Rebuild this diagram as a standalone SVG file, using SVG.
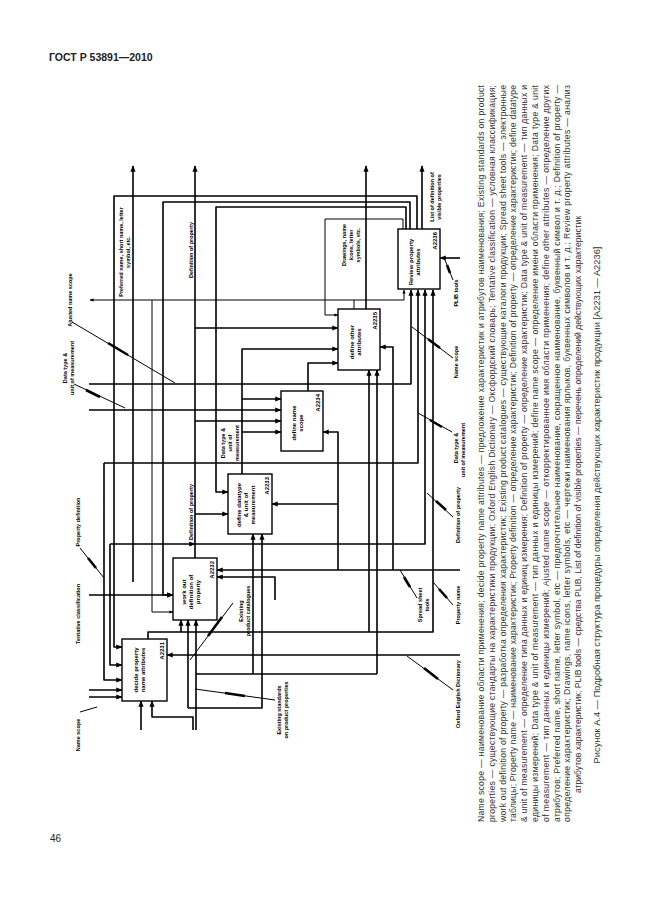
<svg xmlns="http://www.w3.org/2000/svg" width="646" height="913" viewBox="0 0 646 913">
<defs>
<marker id="ah" viewBox="0 0 10 10" refX="9" refY="5" markerWidth="4" markerHeight="4" orient="auto-start-reverse"><path d="M0,1 L10,5 L0,9 z" fill="#000"/></marker>
<style>
.t{font-family:"Liberation Sans",Arial,sans-serif;fill:#222}
.lbl{font-family:"Liberation Sans",Arial,sans-serif;font-weight:bold;font-size:5.5px;fill:#000}
.bx{font-family:"Liberation Sans",Arial,sans-serif;font-weight:bold;font-size:6px;fill:#000}
.box{fill:#fff;stroke:#000;stroke-width:1.4}
.w{fill:none;stroke:#000;stroke-width:1.6;stroke-linejoin:round}
.n{fill:none;stroke:#000;stroke-width:1;stroke-linejoin:round}
.h{fill:none;stroke:#000;stroke-width:2.6}
.a{marker-end:url(#ah)}
.cap{font-family:"Liberation Sans",Arial,sans-serif;font-size:8.6px;fill:#333}
</style>
</defs>
<rect width="646" height="913" fill="#fff"/>
<text x="49" y="61" class="t" font-weight="bold" font-size="10.5">ГОСТ Р 53891—2010</text>
<text x="50" y="842" class="t" font-size="10">46</text>

<g id="connectors">
<path class="w a" d="M133,582 V166"/>
<path class="w a" d="M195,558 V166"/>
<path class="w a" d="M366,309 V166"/>
<path class="w a" d="M422,229 V166"/>
<path class="w a" d="M417,229 V196 H114 V647 H122"/>
<path class="w a" d="M410,229 V202 H163 V595 H173"/>
<path class="w a" d="M406,229 V207 H216 V492 H228"/>
<path class="n a" d="M403,229 V219 H325 V315 H338"/>
<path class="n a" d="M354,309 V300 H404 V290"/>
<path class="n a" d="M354,300 H90"/>
<path class="n a" d="M152,300 V612 H173"/>
<path class="w a" d="M195,328 H338"/>
<path class="w a" d="M195,421 H281"/>
<path class="w a" d="M195,514 H228"/>
<path class="w a" d="M195,544 H425 V290"/>
<path class="w a" d="M110,544 H195"/>
<path class="w a" d="M110,544 V665 H122"/>
<path class="w a" d="M242,474 V349 H338"/>
<path class="w a" d="M242,432 H281"/>
<path class="w a" d="M104,463 H418 V290"/>
<path class="w a" d="M104,463 V680 H122"/>
<path class="w a" d="M308,391 V363 H338"/>
<path class="w a" d="M89,384 H411 V290"/>
<path class="w a" d="M89,410 H281"/>
<path class="w a" d="M242,399 H281"/>
<path class="w a" d="M148,639 V632 H433 V290"/>
<path class="w a" d="M181,632 V620"/>
<path class="w a" d="M369,632 V370"/>
<path class="w a" d="M89,690 H122"/>
<path class="w a" d="M89,697 H122"/>
<path class="w a" d="M89,595 H173"/>
<path class="w a" d="M141,730 V701"/>
<path class="w a" d="M193,730 V717 H152 V701"/>
<path class="w a" d="M196,730 V620"/>
<path class="w a" d="M188,708 V620"/>
<path class="w" d="M196,674 H377"/>
<path class="w a" d="M377,674 V370"/>
<path class="w a" d="M188,708 H262 V534"/>
<path class="w a" d="M253,674 V534"/>
<path class="w a" d="M460,258 H440"/>
<path class="w a" d="M393,570 V347 H380"/>
<path class="w a" d="M338,570 V432 H323"/>
<path class="w a" d="M338,504 H272"/>
<path class="w a" d="M460,570 H217"/>
<path class="w a" d="M275,600 V577 H217"/>
<path class="w a" d="M460,655 H167"/>
<!-- label squiggles with tunnel marks -->
<path class="n" d="M72,322 L175,383"/><path class="h" d="M108,343 L128,355"/>
<path class="n" d="M74,384 L125,408"/><path class="h" d="M86,390 L100,397"/>
<path class="n" d="M80,548 L104,578"/><path class="h" d="M88,558 L96,568"/>
<path class="n" d="M445,260 L453,280"/><path class="h" d="M447,265 L450,273"/>
<path class="n" d="M412,327 L453,358"/><path class="h" d="M428,339 L440,348"/>
<path class="n" d="M418,413 L452,432"/><path class="h" d="M430,420 L442,427"/>
<path class="n" d="M427,493 L453,517"/><path class="h" d="M436,501 L446,510"/>
<path class="n" d="M433,582 L453,605"/><path class="h" d="M439,589 L447,598"/>
<path class="n" d="M400,570 L417,598"/><path class="h" d="M404,577 L410,587"/>
<path class="n" d="M407,656 L453,690"/><path class="h" d="M424,668 L438,679"/>
<path class="n" d="M233,603 L190,660"/><path class="h" d="M222,617 L208,636"/>
<path class="n" d="M195,689 L275,700"/><path class="h" d="M225,693 L245,696"/>
<path class="n" d="M80,712 L97,707"/>
</g>

<g id="A2231"><rect class="box" x="122" y="639" width="45" height="62"/>
<text class="bx" transform="translate(138,670) rotate(-90)" text-anchor="middle">decide property</text>
<text class="bx" transform="translate(145,670) rotate(-90)" text-anchor="middle">name attributes</text>
<text class="bx" transform="translate(164,642) rotate(-90)" text-anchor="end">A2231</text></g>
<g id="A2232"><rect class="box" x="173" y="558" width="44" height="62"/>
<text class="bx" transform="translate(186,592) rotate(-90)" text-anchor="middle">work out</text>
<text class="bx" transform="translate(193,592) rotate(-90)" text-anchor="middle">definition of</text>
<text class="bx" transform="translate(200,592) rotate(-90)" text-anchor="middle">property</text>
<text class="bx" transform="translate(214,561) rotate(-90)" text-anchor="end">A2232</text></g>
<g id="A2233"><rect class="box" x="228" y="474" width="44" height="60"/>
<text class="bx" transform="translate(241,505) rotate(-90)" text-anchor="middle">define datatype</text>
<text class="bx" transform="translate(248,505) rotate(-90)" text-anchor="middle">&amp; unit of</text>
<text class="bx" transform="translate(255,505) rotate(-90)" text-anchor="middle">measurement</text>
<text class="bx" transform="translate(269,477) rotate(-90)" text-anchor="end">A2233</text></g>
<g id="A2234"><rect class="box" x="281" y="391" width="42" height="60"/>
<text class="bx" transform="translate(296,423) rotate(-90)" text-anchor="middle">define name</text>
<text class="bx" transform="translate(303,423) rotate(-90)" text-anchor="middle">scope</text>
<text class="bx" transform="translate(320,394) rotate(-90)" text-anchor="end">A2234</text></g>
<g id="A2235"><rect class="box" x="338" y="309" width="42" height="61"/>
<text class="bx" transform="translate(354,342) rotate(-90)" text-anchor="middle">define other</text>
<text class="bx" transform="translate(361,342) rotate(-90)" text-anchor="middle">attributes</text>
<text class="bx" transform="translate(377,312) rotate(-90)" text-anchor="end">A2235</text></g>
<g id="A2236"><rect class="box" x="398" y="229" width="42" height="60"/>
<text class="bx" transform="translate(413,262) rotate(-90)" text-anchor="middle">Review property</text>
<text class="bx" transform="translate(420,262) rotate(-90)" text-anchor="middle">attributes</text>
<text class="bx" transform="translate(437,232) rotate(-90)" text-anchor="end">A2236</text></g>

<g id="labels">
<text class="lbl" transform="translate(123,252) rotate(-90)" text-anchor="middle">Preferred name, short name, letter</text>
<text class="lbl" transform="translate(130,252) rotate(-90)" text-anchor="middle">symbol, etc.</text>
<text class="lbl" transform="translate(193,250) rotate(-90)" text-anchor="middle">Definition of property</text>
<text class="lbl" transform="translate(346,245) rotate(-90)" text-anchor="middle">Drawings, name</text>
<text class="lbl" transform="translate(353,245) rotate(-90)" text-anchor="middle">icons, letter</text>
<text class="lbl" transform="translate(360,245) rotate(-90)" text-anchor="middle">symbols, etc.</text>
<text class="lbl" transform="translate(434,197) rotate(-90)" text-anchor="middle">List of definition of</text>
<text class="lbl" transform="translate(441,197) rotate(-90)" text-anchor="middle">visible properties</text>
<text class="lbl" transform="translate(458,293) rotate(-90)" text-anchor="middle">PLIB tools</text>
<text class="lbl" transform="translate(458,362) rotate(-90)" text-anchor="middle">Name scope</text>
<text class="lbl" transform="translate(458,448) rotate(-90)" text-anchor="middle">Data type &amp;</text>
<text class="lbl" transform="translate(465,450) rotate(-90)" text-anchor="middle">unit of measurement</text>
<text class="lbl" transform="translate(460,515) rotate(-90)" text-anchor="middle">Definition of property</text>
<text class="lbl" transform="translate(460,605) rotate(-90)" text-anchor="middle">Property name</text>
<text class="lbl" transform="translate(422,605) rotate(-90)" text-anchor="middle">Spread sheet</text>
<text class="lbl" transform="translate(429,605) rotate(-90)" text-anchor="middle">tools</text>
<text class="lbl" transform="translate(460,694) rotate(-90)" text-anchor="middle">Oxford English Dictionary</text>
<text class="lbl" transform="translate(281,710) rotate(-90)" text-anchor="middle">Existing standards</text>
<text class="lbl" transform="translate(288,710) rotate(-90)" text-anchor="middle">on product properties</text>
<text class="lbl" transform="translate(243,611) rotate(-90)" text-anchor="middle">Existing</text>
<text class="lbl" transform="translate(250,611) rotate(-90)" text-anchor="middle">product catalogues</text>
<text class="lbl" transform="translate(225,443) rotate(-90)" text-anchor="middle">Data type &amp;</text>
<text class="lbl" transform="translate(232,443) rotate(-90)" text-anchor="middle">unit of</text>
<text class="lbl" transform="translate(239,443) rotate(-90)" text-anchor="middle">measurement</text>
<text class="lbl" transform="translate(193,512) rotate(-90)" text-anchor="middle">Definition of property</text>
<text class="lbl" transform="translate(72,300) rotate(-90)" text-anchor="middle">Ajusted name scope</text>
<text class="lbl" transform="translate(67,368) rotate(-90)" text-anchor="middle">Data type &amp;</text>
<text class="lbl" transform="translate(74,368) rotate(-90)" text-anchor="middle">unit of measurement</text>
<text class="lbl" transform="translate(80,522) rotate(-90)" text-anchor="middle">Property definition</text>
<text class="lbl" transform="translate(80,614) rotate(-90)" text-anchor="middle">Tentative classification</text>
<text class="lbl" transform="translate(80,735) rotate(-90)" text-anchor="middle">Name scope</text>
</g>

<g id="legend" class="cap">
<text transform="translate(484,822) rotate(-90)" textLength="737" lengthAdjust="spacing">Name scope — наименование области применения; decide property name attributes — предложение характеристик и атрибутов наименования; Existing standards on product</text>
<text transform="translate(494.8,822) rotate(-90)" textLength="737" lengthAdjust="spacing">properties — существующие стандарты на характеристики продукции; Oxford English Dictionary — Оксфордский словарь; Tentative classification — условная классификация;</text>
<text transform="translate(505.6,822) rotate(-90)" textLength="737" lengthAdjust="spacing">work out definition of property — разработка определения характеристик; Existing product catalogues — существующие каталоги продукции; Spread sheet tools — электронные</text>
<text transform="translate(516.4,822) rotate(-90)" textLength="737" lengthAdjust="spacing">таблицы; Property name — наименование характеристик; Property definition — определение характеристик; Definition of property — определение характеристик; define datatype</text>
<text transform="translate(527.2,822) rotate(-90)" textLength="737" lengthAdjust="spacing">&amp; unit of measurement — определение типа данных и единиц измерения; Definition of property — определение характеристик; Data type &amp; unit of measurement — тип данных и</text>
<text transform="translate(538,822) rotate(-90)" textLength="737" lengthAdjust="spacing">единицы измерений; Data type &amp; unit of measurement — тип данных и единицы измерений; define name scope — определение имени области применения; Data type &amp; unit</text>
<text transform="translate(548.8,822) rotate(-90)" textLength="737" lengthAdjust="spacing">of measurement — тип данных и единицы измерений; Ajusted name scope — откорректированное имя области применения; define other attributes — определение других</text>
<text transform="translate(559.6,822) rotate(-90)" textLength="737" lengthAdjust="spacing">атрибутов; Preferred name, short name, letter symbol, etc — предпочтительное наименование, сокращенное наименование, буквенный символ и т. д.; Definition of property —</text>
<text transform="translate(570.4,822) rotate(-90)" textLength="737" lengthAdjust="spacing">определение характеристик; Drawings, name icons, letter symbols, etc — чертежи наименования ярлыков, буквенных символов и т. д.; Review property attributes — анализ</text>
<text transform="translate(581.2,793) rotate(-90)">атрибутов характеристик; PLIB tools — средства PLIB, List of definition of visible properties — перечень определений действующих характеристик</text>
<text transform="translate(600,505) rotate(-90)" text-anchor="middle" font-size="9.3">Рисунок А.4 — Подробная структура процедуры определения действующих характеристик продукции [A2231 — A2236]</text>
</g>
</svg>
